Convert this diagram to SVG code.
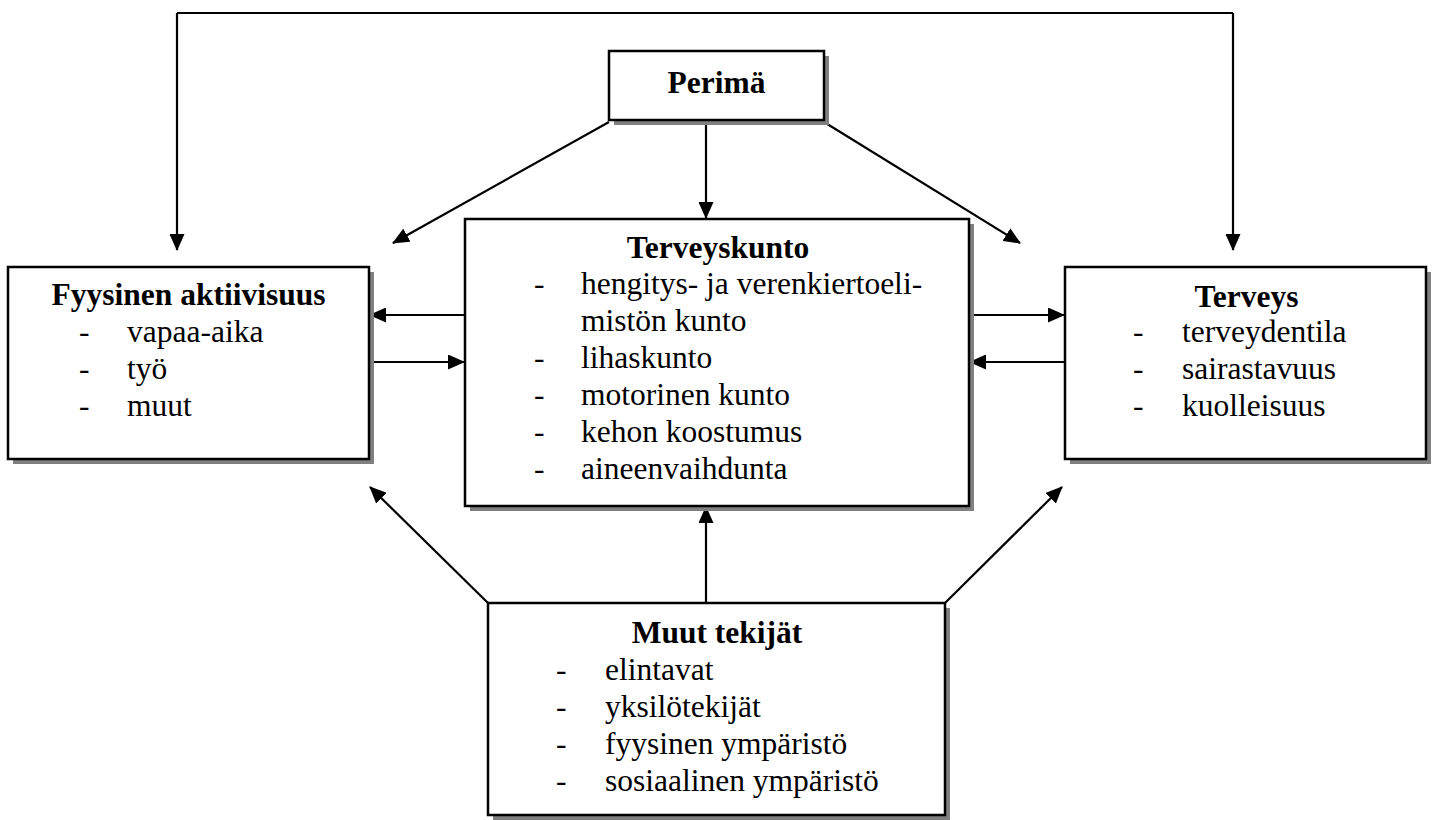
<svg xmlns="http://www.w3.org/2000/svg" width="1436" height="820" viewBox="0 0 1436 820">
<style>
.box{fill:#fff;stroke:#000;stroke-width:2.5}
.shadow{fill:#808080}
.t{font-family:"Liberation Serif","Times New Roman",serif;font-size:31.5px;fill:#000}
.b{font-weight:bold}
.c{stroke:#000;stroke-width:2.2;fill:none}
</style>
<defs>
<marker id="ah" viewBox="0 0 17 15" refX="16" refY="7.5" markerWidth="17" markerHeight="15" markerUnits="userSpaceOnUse" orient="auto">
<path d="M0,0 L17,7.5 L0,15 z" fill="#000"/>
</marker>
</defs>
<rect width="1436" height="820" fill="#fff"/>
<g id="connectors">
<path class="c" d="M177,13 H1233" />
<path class="c" d="M177,13 V250" marker-end="url(#ah)"/>
<path class="c" d="M1233,13 V250" marker-end="url(#ah)"/>
<path class="c" d="M609,122 L393,243" marker-end="url(#ah)"/>
<path class="c" d="M706,120 V218" marker-end="url(#ah)"/>
<path class="c" d="M824,122 L1020,243" marker-end="url(#ah)"/>
<path class="c" d="M465,315 H370" marker-end="url(#ah)"/>
<path class="c" d="M369,362 H464" marker-end="url(#ah)"/>
<path class="c" d="M969,315 H1064" marker-end="url(#ah)"/>
<path class="c" d="M1065,362 H970" marker-end="url(#ah)"/>
<path class="c" d="M488,603 L370,487" marker-end="url(#ah)"/>
<path class="c" d="M706,603 V507" marker-end="url(#ah)"/>
<path class="c" d="M945,603 L1062,487" marker-end="url(#ah)"/>
</g>
<g id="perima">
<rect class="shadow" x="614" y="56" width="215" height="69"/>
<rect class="box" x="609" y="51" width="215" height="69"/>
<text class="t b" x="716.5" y="93" text-anchor="middle">Perimä</text>
</g>
<g id="fyysinen">
<rect class="shadow" x="13" y="272" width="361" height="192"/>
<rect class="box" x="8" y="267" width="361" height="192"/>
<text class="t b" x="188.5" y="305" text-anchor="middle">Fyysinen aktiivisuus</text>
<text class="t" x="79" y="342">-</text><text class="t" x="127" y="342">vapaa-aika</text>
<text class="t" x="79" y="379">-</text><text class="t" x="127" y="379">työ</text>
<text class="t" x="79" y="416">-</text><text class="t" x="127" y="416">muut</text>
</g>
<g id="terveyskunto">
<rect class="shadow" x="470" y="224" width="504" height="287"/>
<rect class="box" x="465" y="219" width="504" height="287"/>
<text class="t b" x="718" y="258" text-anchor="middle">Terveyskunto</text>
<text class="t" x="534" y="294">-</text><text class="t" x="581" y="294">hengitys- ja verenkiertoeli-</text>
<text class="t" x="581" y="331">mistön kunto</text>
<text class="t" x="534" y="368">-</text><text class="t" x="581" y="368">lihaskunto</text>
<text class="t" x="534" y="405">-</text><text class="t" x="581" y="405">motorinen kunto</text>
<text class="t" x="534" y="442">-</text><text class="t" x="581" y="442">kehon koostumus</text>
<text class="t" x="534" y="479">-</text><text class="t" x="581" y="479">aineenvaihdunta</text>
</g>
<g id="terveys">
<rect class="shadow" x="1070" y="272" width="361" height="192"/>
<rect class="box" x="1065" y="267" width="361" height="192"/>
<text class="t b" x="1246.5" y="307" text-anchor="middle">Terveys</text>
<text class="t" x="1133" y="342">-</text><text class="t" x="1182" y="342">terveydentila</text>
<text class="t" x="1133" y="379">-</text><text class="t" x="1182" y="379">sairastavuus</text>
<text class="t" x="1133" y="416">-</text><text class="t" x="1182" y="416">kuolleisuus</text>
</g>
<g id="muut">
<rect class="shadow" x="493" y="608" width="457" height="212"/>
<rect class="box" x="488" y="603" width="457" height="212"/>
<text class="t b" x="717" y="643" text-anchor="middle">Muut tekijät</text>
<text class="t" x="556" y="680">-</text><text class="t" x="605" y="680">elintavat</text>
<text class="t" x="556" y="717">-</text><text class="t" x="605" y="717">yksilötekijät</text>
<text class="t" x="556" y="754">-</text><text class="t" x="605" y="754">fyysinen ympäristö</text>
<text class="t" x="556" y="791">-</text><text class="t" x="605" y="791">sosiaalinen ympäristö</text>
</g>
</svg>
